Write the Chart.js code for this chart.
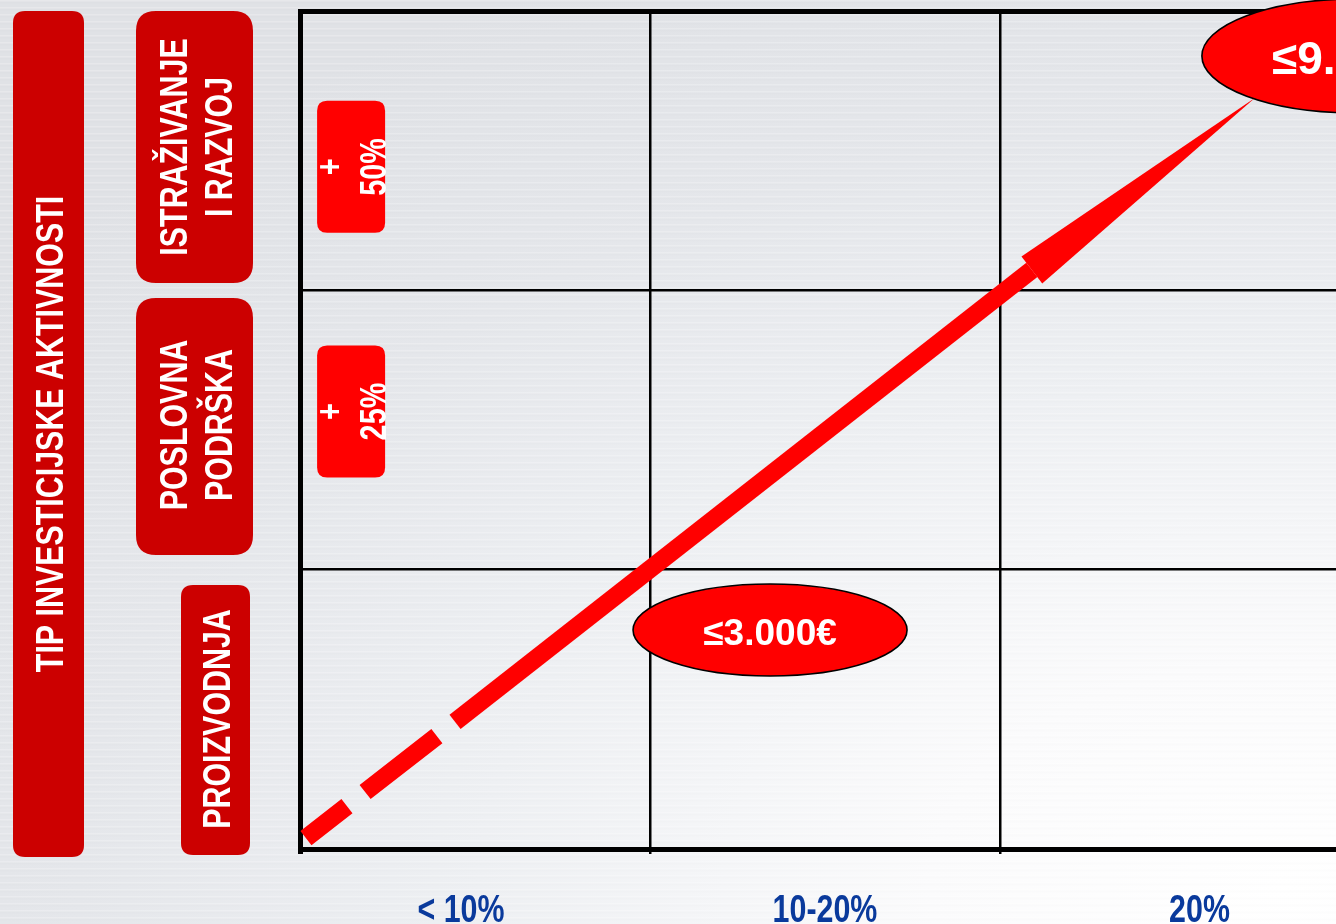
<!DOCTYPE html>
<html>
<head>
<meta charset="utf-8">
<script src="https://cdn.jsdelivr.net/npm/chart.js@4.4.1/dist/chart.umd.min.js"></script>
<style>
html, body { margin: 0; padding: 0; width: 1336px; height: 924px; overflow: hidden; }
body {
  background:
    repeating-linear-gradient(180deg, rgba(255,255,255,0.22) 0px, rgba(255,255,255,0.22) 1px, rgba(0,0,0,0.012) 2px, rgba(0,0,0,0) 4px, rgba(0,0,0,0) 7px),
    radial-gradient(ellipse 120% 110% at 96% 96%, #ffffff 0%, #fbfbfc 22%, #eef0f3 50%, #e5e7eb 75%, #e0e2e6 100%);
}
#wrap { position: absolute; left: 0; top: 0; width: 1350px; height: 924px; }
</style>
</head>
<body>
<div id="wrap"><canvas id="matrixChart" width="1350" height="924"></canvas></div>
<script>
// columns (bottom axis) and rows (bottom -> top)
const colLabels = ['< 10%', '10-20%', '20%'];
const colLabelPos = [0.46, 1.5, 2.57];
const axisTitle = 'TIP INVESTICIJSKE AKTIVNOSTI';
const rowLabels = [['PROIZVODNJA'], ['POSLOVNA', 'PODRŠKA'], ['ISTRAŽIVANJE', 'I RAZVOJ']];

// bonus per row
const bonusLabels = ['', '+ 25%', '+ 50%'];
const bonusX = [0, 0.146, 0.146];
const bonusY = [0, 1.566, 2.442];

// arrow: start, end of dashed part, arrowhead base, tip
const arrowX = [0.017, 0.443, 2.091, 2.729];
const arrowY = [0.039, 0.455, 2.073, 2.689];

// amount callouts
const calloutText = ['≤3.000€', '≤9.000€'];
const calloutX = [1.343, 3.014];
const calloutY = [0.784, 2.839];

function hasFont(name) {
  var c = document.createElement('canvas').getContext('2d');
  var s = 'ISTRAŽIVANJE 10-20%';
  c.font = 'bold 40px monospace';
  var a = c.measureText(s).width;
  c.font = 'bold 40px "' + name + '", monospace';
  return Math.abs(c.measureText(s).width - a) > 0.5;
}
const narrowOK = hasFont('Liberation Sans Narrow');

// condensed bold text centered on (cx, cy), rotated by angle
function ctext(ctx, txt, cx, cy, size, color, angle) {
  ctx.save();
  ctx.font = 'bold ' + size + 'px "Liberation Sans", Arial, sans-serif';
  var w0 = ctx.measureText(txt).width;
  var sx = 0.8;
  if (narrowOK) {
    ctx.font = 'bold ' + size + 'px "Liberation Sans Narrow"';
    sx = w0 * 0.8 / ctx.measureText(txt).width;
  }
  ctx.translate(cx, cy);
  ctx.rotate(angle);
  ctx.scale(sx, 1);
  ctx.fillStyle = color;
  ctx.textAlign = 'center';
  ctx.textBaseline = 'alphabetic';
  ctx.fillText(txt, 0, size * 0.716 / 2);
  ctx.restore();
}
function vtext(ctx, txt, cx, cy, size, color) {
  ctext(ctx, txt, cx, cy, size, color, -Math.PI / 2);
}

function rrect(ctx, x, y, w, h, r, fill) {
  ctx.beginPath();
  ctx.moveTo(x + r, y);
  ctx.lineTo(x + w - r, y);
  ctx.quadraticCurveTo(x + w, y, x + w, y + r);
  ctx.lineTo(x + w, y + h - r);
  ctx.quadraticCurveTo(x + w, y + h, x + w - r, y + h);
  ctx.lineTo(x + r, y + h);
  ctx.quadraticCurveTo(x, y + h, x, y + h - r);
  ctx.lineTo(x, y + r);
  ctx.quadraticCurveTo(x, y, x + r, y);
  ctx.closePath();
  ctx.fillStyle = fill;
  ctx.fill();
}

const matrixPlugin = {
  id: 'matrix',
  beforeDatasetsDraw(chart) {
    const ctx = chart.ctx, xs = chart.scales.x, ys = chart.scales.y;
    bonusLabels.forEach(function (lab, i) {
      if (!lab) return;
      var cx = xs.getPixelForValue(bonusX[i]);
      var cy = ys.getPixelForValue(bonusY[i]);
      rrect(ctx, cx - 34, cy - 66, 68, 132, 10, '#ff0000');
      var parts = lab.split(' ');
      vtext(ctx, parts[0], cx - 22, cy, 36, '#ffffff');
      vtext(ctx, parts[1], cx + 22, cy, 36, '#ffffff');
    });
  },
  afterDatasetsDraw(chart) {
    const ctx = chart.ctx, xs = chart.scales.x, ys = chart.scales.y;
    // arrowhead on the last (invisible) segment
    var n = arrowX.length;
    var bx = xs.getPixelForValue(arrowX[n - 2]), by = ys.getPixelForValue(arrowY[n - 2]);
    var tx = xs.getPixelForValue(arrowX[n - 1]), ty = ys.getPixelForValue(arrowY[n - 1]);
    var len = Math.hypot(tx - bx, ty - by);
    var nx = -(ty - by) / len, ny = (tx - bx) / len;
    ctx.save();
    ctx.beginPath();
    ctx.moveTo(bx + nx * 17, by + ny * 17);
    ctx.lineTo(tx, ty);
    ctx.lineTo(bx - nx * 17, by - ny * 17);
    ctx.closePath();
    ctx.fillStyle = '#ff0000';
    ctx.fill();
    ctx.restore();

    // callouts
    var sizes = [[137, 46, 37], [153, 57, 46]];
    calloutText.forEach(function (t, i) {
      var cx = xs.getPixelForValue(calloutX[i]);
      var cy = ys.getPixelForValue(calloutY[i]);
      ctx.save();
      ctx.beginPath();
      ctx.ellipse(cx, cy, sizes[i][0], sizes[i][1], 0, 0, Math.PI * 2);
      ctx.fillStyle = '#ff0000';
      ctx.fill();
      ctx.lineWidth = 1.6;
      ctx.strokeStyle = '#000000';
      ctx.stroke();
      ctx.font = 'bold ' + sizes[i][2] + 'px "Liberation Sans", Arial, sans-serif';
      ctx.fillStyle = '#ffffff';
      ctx.textAlign = 'center';
      ctx.textBaseline = 'alphabetic';
      ctx.fillText(t, cx, cy + sizes[i][2] * 0.716 / 2 + 2);
      ctx.restore();
    });
  },
  afterDraw(chart) {
    const ctx = chart.ctx, xs = chart.scales.x;
    // column labels under the x axis
    colLabels.forEach(function (lab, i) {
      ctext(ctx, lab, xs.getPixelForValue(colLabelPos[i]), 908, 38, '#0a3a9c', 0);
    });

    // left side labels
    rrect(ctx, 13, 11, 71, 846, 12, '#cc0000');
    vtext(ctx, axisTitle, 49, 434, 38, '#ffffff');

    rrect(ctx, 136, 11, 117, 272, 20, '#cc0000');
    vtext(ctx, rowLabels[2][0], 173, 147, 38, '#ffffff');
    vtext(ctx, rowLabels[2][1], 218, 147, 38, '#ffffff');

    rrect(ctx, 136, 298, 117, 257, 20, '#cc0000');
    vtext(ctx, rowLabels[1][0], 173, 425, 38, '#ffffff');
    vtext(ctx, rowLabels[1][1], 218, 425, 38, '#ffffff');

    rrect(ctx, 181, 585, 69, 270, 12, '#cc0000');
    vtext(ctx, rowLabels[0][0], 216, 719, 38, '#ffffff');
  }
};

var ctx = document.getElementById('matrixChart').getContext('2d');

var matrixChart = new Chart(ctx, {
  type: 'line',
  data: {
    datasets: [{
      data: arrowX.map(function (x, i) { return { x: x, y: arrowY[i] }; }),
      borderColor: '#ff0000',
      borderWidth: 18,
      borderCapStyle: 'butt',
      borderJoinStyle: 'miter',
      pointRadius: 0,
      tension: 0,
      clip: false,
      segment: {
        borderDash: function (c) { return c.p0DataIndex === 0 ? [52, 23, 91, 23] : []; },
        borderColor: function (c) { return c.p0DataIndex === 2 ? 'rgba(0,0,0,0)' : '#ff0000'; }
      }
    }]
  },
  options: {
    responsive: false,
    animation: false,
    layout: { padding: { top: 11, left: 0, right: 0, bottom: 0 } },
    plugins: {
      legend: { display: false },
      tooltip: { enabled: false }
    },
    scales: {
      x: {
        type: 'linear',
        min: 0,
        max: 3,
        afterFit: function (s) { s.height = 75; s.paddingLeft = 0; s.paddingRight = 0; },
        ticks: { stepSize: 1, display: false },
        grid: {
          color: '#000000',
          lineWidth: function (c) { return c.tick && (c.tick.value === 0 || c.tick.value === 3) ? 5 : 2.5; },
          tickLength: 5
        },
        border: { color: '#000000', width: 5 }
      },
      y: {
        type: 'linear',
        min: 0,
        max: 3,
        afterFit: function (s) { s.width = 300; s.paddingTop = 0; s.paddingBottom = 0; },
        ticks: { stepSize: 1, display: false },
        grid: {
          color: '#000000',
          lineWidth: function (c) { return c.tick && (c.tick.value === 0 || c.tick.value === 3) ? 5 : 2.5; },
          drawTicks: false
        },
        border: { color: '#000000', width: 5 }
      }
    }
  },
  plugins: [matrixPlugin]
});
</script>
</body>
</html>
